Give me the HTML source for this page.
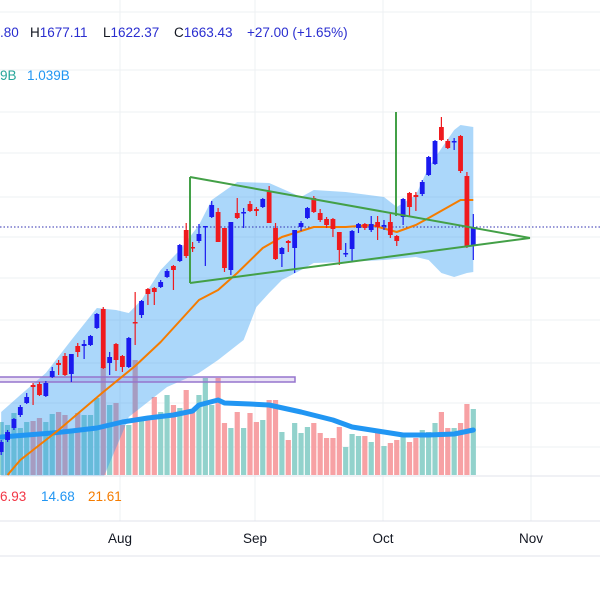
<!DOCTYPE html>
<html><head><meta charset="utf-8"><style>
html,body{margin:0;padding:0;background:#fff;width:600px;height:600px;overflow:hidden;font-family:"Liberation Sans",sans-serif}
svg{display:block}
</style></head><body>
<svg id="chart" width="600" height="600" viewBox="0 0 600 600" xmlns="http://www.w3.org/2000/svg">
<defs><clipPath id="pane"><rect x="0" y="0" width="600" height="476"/></clipPath></defs>
<g id="grid"></g>
<g id="vol"></g>
<g id="band" clip-path="url(#pane)"></g>
<rect x="-2" y="377" width="297" height="5" fill="rgba(149,117,205,0.2)" stroke="#9575cd" stroke-width="1.5"/>
<line x1="0" y1="227" x2="600" y2="227" stroke="#3030b0" stroke-width="1" stroke-dasharray="1.5,2"/>
<g id="lines" clip-path="url(#pane)"></g>
<g id="candles"></g>
<g stroke="#43a047" stroke-width="2" fill="none">
<line x1="190" y1="177" x2="190" y2="283"/>
<line x1="190" y1="177" x2="530" y2="238"/>
<line x1="190" y1="283" x2="530" y2="238"/>
<line x1="396" y1="112" x2="396" y2="216"/>
</g>
<line x1="0" y1="476" x2="600" y2="476" stroke="#e0e3eb"/>
<line x1="0" y1="521" x2="600" y2="521" stroke="#e0e3eb"/>
<line x1="0" y1="556" x2="600" y2="556" stroke="#e0e3eb"/>
<g font-size="13.5">
<text x="0" y="37" fill="#2a2ed0">.80</text>
<text x="30" y="37"><tspan fill="#131722">H</tspan><tspan fill="#2a2ed0">1677.11</tspan></text>
<text x="103" y="37"><tspan fill="#131722">L</tspan><tspan fill="#2a2ed0">1622.37</tspan></text>
<text x="174" y="37"><tspan fill="#131722">C</tspan><tspan fill="#2a2ed0">1663.43</tspan></text>
<text x="247" y="37" fill="#2a2ed0">+27.00 (+1.65%)</text>
<text x="0" y="80" fill="#26a69a">9B</text>
<text x="27" y="80" fill="#2196f3">1.039B</text>
<text x="0" y="501" fill="#f23645">6.93</text>
<text x="41" y="501" fill="#2196f3">14.68</text>
<text x="88" y="501" fill="#f57c00">21.61</text>
</g>
<g id="xaxis" font-size="13.5" fill="#131722" text-anchor="middle"></g>
</svg>
<script>
const openP=[1438,1450,1462,1475,1487,1505,1506,1494,1513,1527,1534,1516,1544,1544,1545,1562,1581,1527,1546,1534,1523,1568,1575,1601,1602,1603,1613,1624,1629,1660,1643,1649,1663,1673,1678,1662,1620,1677,1677,1686,1681,1683,1698,1662,1636,1649,1642,1663,1672,1692,1677,1671,1671,1658,1636,1641,1662,1666,1660,1668,1664,1668,1654,1673,1697,1695,1696,1715,1726,1763,1749,1748,1754,1714,1644];
const highP=[1450,1460,1472,1485,1497,1507,1508,1509,1523,1530,1537,1536,1547,1550,1555,1577,1583,1538,1547,1535,1553,1598,1590,1602,1603,1610,1621,1625,1646,1667,1648,1666,1664,1689,1682,1662,1668,1692,1682,1689,1683,1692,1704,1667,1643,1650,1660,1669,1683,1694,1681,1673,1672,1658,1647,1660,1667,1667,1674,1674,1670,1677,1655,1692,1698,1698,1710,1734,1750,1773,1751,1752,1755,1718,1676];
const lowP=[1435,1448,1460,1473,1486,1485,1494,1493,1512,1515,1514,1508,1533,1531,1544,1561,1521,1515,1519,1518,1522,1545,1572,1585,1585,1602,1612,1600,1628,1632,1638,1647,1624,1672,1648,1618,1615,1671,1662,1678,1674,1682,1667,1630,1623,1638,1617,1659,1671,1677,1668,1662,1653,1625,1633,1628,1657,1660,1658,1650,1660,1652,1644,1665,1673,1679,1694,1714,1725,1749,1741,1740,1717,1642,1630];
const closeP=[1448,1458,1471,1483,1493,1503,1495,1507,1519,1525,1515,1536,1538,1546,1554,1576,1522,1533,1530,1523,1552,1567,1589,1596,1598,1608,1619,1620,1645,1634,1642,1656,1664,1685,1648,1622,1668,1672,1678,1679,1679,1691,1667,1631,1642,1647,1660,1667,1682,1678,1670,1665,1661,1640,1637,1659,1666,1662,1666,1663,1665,1655,1649,1691,1683,1693,1708,1733,1749,1750,1742,1749,1719,1643,1663];
const volumeM=[1272,1200,1488,1128,1272,1296,1368,1272,1464,1512,1440,1008,1488,1440,1440,1848,2592,1680,1728,1200,1200,2760,1368,1368,1872,1512,1920,1680,1608,2040,1560,1920,2328,1680,2328,1248,1128,1512,1128,1488,1272,1320,1800,1800,1032,840,1248,1008,1152,1248,1008,888,888,1152,672,984,936,936,792,1032,696,768,840,912,792,888,1080,1032,1248,1512,1128,1128,1248,1704,1584];
const volMaIdx=[0,4,8,11,15,19,23,27,30,31,34,35,39,42,47,52,55,60,63,67,71,74];
const volMa=[912,960,1008,1056,1128,1272,1368,1440,1536,1680,1800,1728,1704,1680,1512,1320,1152,1032,960,960,984,1080];
const maIdx=[1,3,9,16,21,25,31,34,37,41,44,49,54,58,62,65,67,72,74];
const maP=[1415,1430,1460,1498,1524,1548,1590,1600,1617,1642,1653,1663,1663,1665,1658,1665,1672,1690,1690];
const bbUpIdx=[0,3,7,11,15,18,20,22,25,28,31,33,37,42,47,49,54,60,62,65,67,71,72,74];
const bbUp=[1478,1495,1517,1550,1582,1580,1577,1590,1620,1640,1665,1690,1708,1707,1693,1700,1698,1693,1683,1695,1723,1760,1765,1763];
const bbLoIdx=[0,9,16,19,20,26,31,34,38,40,42,44,47,49,54,60,65,67,69,71,73,74];
const bbLo=[1330,1370,1412,1457,1473,1503,1517,1530,1550,1583,1597,1610,1620,1627,1628,1630,1633,1630,1617,1613,1617,1618];
const monthLabels=["Aug","Sep","Oct","Nov"];
const monthX=[120,255,383,531];
const gridY=[12,70,112,153,197,237,278,320,363,403,447];

const NS="http://www.w3.org/2000/svg";
const N=closeP.length;
function xOf(i){return 473.3-(N-1-i)*6.38;}
function yP(p){return 1890-p;}
function yV(v){return 475-v/24;}
function mk(tag,attrs,parent){const e=document.createElementNS(NS,tag);for(const k in attrs)e.setAttribute(k,attrs[k]);parent.appendChild(e);return e;}

const grid=document.getElementById('grid');
gridY.forEach(y=>{const l=mk('line',{x1:0,x2:600,y1:y,y2:y,stroke:'#eef0f3'},grid);

});
const xa=document.getElementById('xaxis');
monthX.forEach((x,i)=>{const l=mk('line',{x1:x,x2:x,y1:0,y2:521,stroke:'#eef0f3'},grid);


const t=mk('text',{x:x,y:543},xa);t.textContent=monthLabels[i];

});

const vol=document.getElementById('vol');
volumeM.forEach((v,i)=>{const up=closeP[i]>=openP[i];const r=mk('rect',{x:xOf(i)-2.6,y:yV(v),width:5.2,height:475-yV(v),fill:up?'#92d2cc':'#f7a1a4'},vol);

});

const band=document.getElementById('band');
let d='';bbUpIdx.forEach((i,k)=>{d+=(k?'L':'M')+xOf(i)+','+yP(bbUp[k]);});
for(let k=bbLoIdx.length-1;k>=0;k--){d+='L'+xOf(bbLoIdx[k])+','+yP(bbLo[k]);}
const bp=mk('path',{d:d+'Z',fill:'rgba(33,150,243,0.38)'},band);



const lines=document.getElementById('lines');
const vm=mk('polyline',{points:volMaIdx.map((i,k)=>xOf(i)+','+yV(volMa[k])).join(' '),fill:'none',stroke:'#2196f3','stroke-width':5,'stroke-linejoin':'round','stroke-linecap':'round'},lines);


const ma=mk('polyline',{points:maIdx.map((i,k)=>xOf(i)+','+yP(maP[k])).join(' '),fill:'none',stroke:'#f57c00','stroke-width':2,'stroke-linejoin':'round'},lines);



const cg=document.getElementById('candles');
closeP.forEach((c,i)=>{const o=openP[i];const up=c>=o;const col=up?'#1a1aef':'#ef1a1e';const x=xOf(i);
const g=mk('g',{},cg);


mk('line',{x1:x,x2:x,y1:yP(highP[i]),y2:yP(lowP[i]),stroke:col,'stroke-width':1.2},g);
const top=yP(Math.max(o,c)),bot=yP(Math.min(o,c));
mk('rect',{x:x-2.4,y:top,width:4.8,height:Math.max(1.5,bot-top),fill:col},g);});
</script>
</body></html>
